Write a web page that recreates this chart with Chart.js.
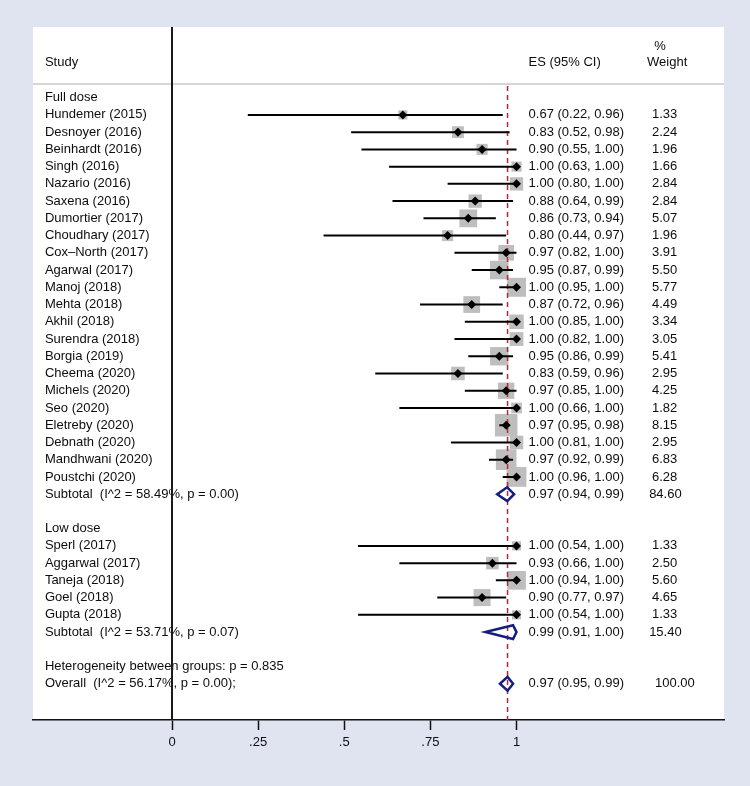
<!DOCTYPE html>
<html>
<head>
<meta charset="utf-8">
<title>Forest plot</title>
<script src="https://cdn.jsdelivr.net/npm/chart.js@4.4.1/dist/chart.umd.min.js"></script>
<style>
  html, body { margin: 0; padding: 0; background: rgb(223, 228, 240); }
  canvas { display: block; }
</style>
</head>
<body>
<canvas id="forestChart" width="750" height="786"></canvas>
<script>
// values
const groupTitles = ["Full dose", "Low dose"];

const fullDoseStudies = [
  "Hundemer (2015)", "Desnoyer (2016)", "Beinhardt (2016)", "Singh (2016)",
  "Nazario (2016)", "Saxena (2016)", "Dumortier (2017)", "Choudhary (2017)",
  "Cox–North (2017)", "Agarwal (2017)", "Manoj (2018)", "Mehta (2018)",
  "Akhil (2018)", "Surendra (2018)", "Borgia (2019)", "Cheema (2020)",
  "Michels (2020)", "Seo (2020)", "Eletreby (2020)", "Debnath (2020)",
  "Mandhwani (2020)", "Poustchi (2020)"
];
const fullDoseEs = [0.67, 0.83, 0.90, 1.00, 1.00, 0.88, 0.86, 0.80, 0.97, 0.95, 1.00,
  0.87, 1.00, 1.00, 0.95, 0.83, 0.97, 1.00, 0.97, 1.00, 0.97, 1.00];
const fullDoseLow = [0.22, 0.52, 0.55, 0.63, 0.80, 0.64, 0.73, 0.44, 0.82, 0.87, 0.95,
  0.72, 0.85, 0.82, 0.86, 0.59, 0.85, 0.66, 0.95, 0.81, 0.92, 0.96];
const fullDoseHigh = [0.96, 0.98, 1.00, 1.00, 1.00, 0.99, 0.94, 0.97, 1.00, 0.99, 1.00,
  0.96, 1.00, 1.00, 0.99, 0.96, 1.00, 1.00, 0.98, 1.00, 0.99, 1.00];
const fullDoseWeight = [1.33, 2.24, 1.96, 1.66, 2.84, 2.84, 5.07, 1.96, 3.91, 5.50, 5.77,
  4.49, 3.34, 3.05, 5.41, 2.95, 4.25, 1.82, 8.15, 2.95, 6.83, 6.28];

const lowDoseStudies = ["Sperl (2017)", "Aggarwal (2017)", "Taneja (2018)", "Goel (2018)", "Gupta (2018)"];
const lowDoseEs = [1.00, 0.93, 1.00, 0.90, 1.00];
const lowDoseLow = [0.54, 0.66, 0.94, 0.77, 0.54];
const lowDoseHigh = [1.00, 1.00, 1.00, 0.97, 1.00];
const lowDoseWeight = [1.33, 2.50, 5.60, 4.65, 1.33];

const subtotalLabels = ["Subtotal  (I^2 = 58.49%, p = 0.00)", "Subtotal  (I^2 = 53.71%, p = 0.07)"];
const subtotalEs = [0.973, 0.99];
const subtotalLow = [0.944, 0.91];
const subtotalHigh = [0.993, 1.00];
const subtotalWeight = [84.60, 15.40];

const heterogeneityLabel = "Heterogeneity between groups: p = 0.835";
const overallLabel = "Overall  (I^2 = 56.17%, p = 0.00);";
const overallEs = 0.974;
const overallLow = 0.952;
const overallHigh = 0.99;
const overallWeight = 100.00;

const tickValues = [0, 0.25, 0.5, 0.75, 1];
const tickLabels = ["0", ".25", ".5", ".75", "1"];

// one row per line of the table, top to bottom
const rows = [];
const addGroup = (g, names, es, lo, hi, wt) => {
  rows.push({ kind: "group", label: groupTitles[g] });
  names.forEach((name, i) => {
    rows.push({ kind: "study", label: name, es: es[i], lo: lo[i], hi: hi[i], weight: wt[i] });
  });
  rows.push({ kind: "subtotal", label: subtotalLabels[g], es: subtotalEs[g],
    lo: subtotalLow[g], hi: subtotalHigh[g], weight: subtotalWeight[g] });
  rows.push({ kind: "blank" });
};
addGroup(0, fullDoseStudies, fullDoseEs, fullDoseLow, fullDoseHigh, fullDoseWeight);
addGroup(1, lowDoseStudies, lowDoseEs, lowDoseLow, lowDoseHigh, lowDoseWeight);
rows.push({ kind: "note", label: heterogeneityLabel });
rows.push({ kind: "overall", label: overallLabel, es: overallEs, lo: overallLow, hi: overallHigh, weight: overallWeight });
rows.forEach((r, i) => (r.row = i));

const studyRows = rows.filter((r) => r.kind === "study");
const pooledRows = rows.filter((r) => r.kind === "subtotal" || r.kind === "overall");

// layout in axis units
const X_MIN = -0.4035;
const X_MAX = 1.6023;
const Y_MIN = -4.1;
const Y_MAX = 36.1;
const DIAMOND_HALF = 0.4;
const BOX_SCALE = 7.9;
const COL_LABEL = -0.369;
const COL_ES = 1.035;
const COL_WEIGHT = { study: 1.393, subtotal: 1.385, overall: 1.402 };

const gap = { x: NaN, y: NaN };

const ciData = [];
studyRows.forEach((r) => {
  ciData.push({ x: r.lo, y: r.row }, { x: r.hi, y: r.row }, gap);
});

const diamondData = [];
pooledRows.forEach((r) => {
  diamondData.push(
    { x: r.lo, y: r.row },
    { x: r.es, y: r.row - DIAMOND_HALF },
    { x: r.hi, y: r.row },
    { x: r.es, y: r.row + DIAMOND_HALF },
    { x: r.lo, y: r.row },
    { x: r.es, y: r.row - DIAMOND_HALF },
    gap
  );
});

const fmt = (v) => v.toFixed(2);
const textFont = "13px 'Liberation Sans', Arial, Helvetica, sans-serif";

const plotBackground = {
  id: "plotBackground",
  beforeDraw(chart) {
    const { ctx, chartArea: a } = chart;
    ctx.save();
    ctx.fillStyle = "#ffffff";
    ctx.fillRect(a.left, a.top, a.right - a.left, a.bottom - a.top);
    ctx.restore();
  },
};

const tableText = {
  id: "tableText",
  beforeDatasetsDraw(chart) {
    const { ctx } = chart;
    const xs = chart.scales.x;
    const ys = chart.scales.y;
    const put = (text, xv, yv) => ctx.fillText(text, xs.getPixelForValue(xv), ys.getPixelForValue(yv));
    ctx.save();
    ctx.font = textFont;
    ctx.fillStyle = "#0d0d0d";
    ctx.textAlign = "left";
    ctx.textBaseline = "middle";
    put("Study", COL_LABEL, -2.03);
    put("ES (95% CI)", COL_ES, -2.03);
    put("%", 1.4, -2.96);
    put("Weight", 1.379, -2.03);
    rows.forEach((r) => {
      if (r.kind === "blank") return;
      put(r.label, COL_LABEL, r.row);
      if (r.es === undefined) return;
      put(`${fmt(r.es)} (${fmt(r.lo)}, ${fmt(r.hi)})`, COL_ES, r.row);
      put(fmt(r.weight), COL_WEIGHT[r.kind], r.row);
    });
    ctx.restore();
  },
};

const ctx = document.getElementById("forestChart");
const forestChart = new Chart(ctx, {
  type: "scatter",
  data: {
    datasets: [
      {
        label: "pooled",
        type: "line",
        data: diamondData,
        borderColor: "rgb(20, 30, 125)",
        borderWidth: 2.5,
        borderJoinStyle: "miter",
        pointRadius: 0,
        fill: false,
        spanGaps: false,
        order: 1,
      },
      {
        label: "estimate",
        data: studyRows.map((r) => ({ x: r.es, y: r.row })),
        pointStyle: "rectRot",
        pointRadius: 4.5,
        backgroundColor: "#000000",
        borderWidth: 0,
        order: 2,
      },
      {
        label: "ci",
        type: "line",
        data: ciData,
        borderColor: "#000000",
        borderWidth: 2,
        pointRadius: 0,
        spanGaps: false,
        order: 3,
      },
      {
        label: "overall line",
        type: "line",
        data: [{ x: overallEs, y: -0.68 }, { x: overallEs, y: Y_MAX }],
        borderColor: "rgb(180, 40, 55)",
        borderWidth: 1.5,
        borderDash: [5, 4],
        pointRadius: 0,
        order: 4,
      },
      {
        label: "weight",
        data: studyRows.map((r) => ({ x: r.es, y: r.row })),
        pointStyle: "rect",
        pointRadius: studyRows.map((r) => (BOX_SCALE * Math.sqrt(r.weight)) / Math.SQRT2),
        backgroundColor: "rgb(190, 190, 190)",
        borderWidth: 0,
        order: 5,
      },
      {
        label: "null line",
        type: "line",
        data: [{ x: 0, y: Y_MIN }, { x: 0, y: Y_MAX }],
        borderColor: "#1a1a1a",
        borderWidth: 2,
        pointRadius: 0,
        order: 6,
      },
      {
        label: "header rule",
        type: "line",
        data: [{ x: X_MIN, y: -0.795 }, { x: X_MAX, y: -0.795 }],
        borderColor: "rgb(200, 200, 200)",
        borderWidth: 1.5,
        pointRadius: 0,
        order: 7,
      },
    ],
  },
  options: {
    responsive: false,
    devicePixelRatio: 1,
    animation: false,
    layout: { padding: { left: 33, right: 26, top: 27, bottom: 36 } },
    plugins: { legend: { display: false }, tooltip: { enabled: false } },
    scales: {
      x: {
        type: "linear",
        min: X_MIN,
        max: X_MAX,
        afterBuildTicks: (scale) => {
          scale.ticks = tickValues.map((v) => ({ value: v }));
        },
        afterFit: (scale) => {
          scale.height = 30;
        },
        ticks: {
          callback: (v) => tickLabels[tickValues.indexOf(v)],
          font: { family: "'Liberation Sans', Arial, sans-serif", size: 13 },
          color: "#0d0d0d",
          padding: 5,
          maxRotation: 0,
          autoSkip: false,
        },
        grid: { drawOnChartArea: false, drawTicks: true, tickLength: 10, tickColor: "#111111", tickWidth: 1.5 },
        border: { display: true, color: "#111111", width: 1.5 },
      },
      y: {
        type: "linear",
        min: Y_MIN,
        max: Y_MAX,
        reverse: true,
        display: false,
      },
    },
  },
  plugins: [plotBackground, tableText],
});
</script>
</body>
</html>
